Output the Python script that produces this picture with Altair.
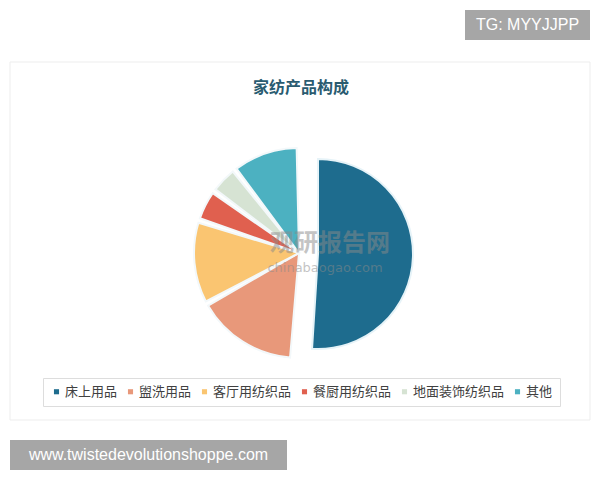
import altair as alt
import pandas as pd

categories = ["床上用品", "盥洗用品", "客厅用纺织品", "餐厨用纺织品", "地面装饰纺织品", "其他"]
values = [51, 16, 13, 5, 4.5, 10.5]
colors = ["#1e6c8e", "#e8987a", "#fac571", "#e0604f", "#d6e3d3", "#4cb1c1"]

title_text = "家纺产品构成"
watermark_cn = "观研报告网"
watermark_en = "chinabaogao.com"
tag_text = "TG: MYYJJPP"
site_text = "www.twistedevolutionshoppe.com"

CJK = "Noto Sans CJK SC"

df = pd.DataFrame({"category": categories, "value": values, "order": list(range(len(categories)))})
one = pd.DataFrame({"k": [0]})

color = alt.Color(
    "category:N",
    scale=alt.Scale(domain=categories, range=colors),
    legend=alt.Legend(
        title=None, orient="none", legendX=35, legendY=370, direction="horizontal",
        symbolType="square", symbolSize=26, symbolStrokeWidth=0, labelFont=CJK,
        labelFontSize=13, labelColor="#404040", labelOffset=2, columnPadding=6,
        strokeColor="#dddddd", padding=7, fillColor="#ffffff",
    ),
)

base = (
    alt.Chart(df)
    .transform_joinaggregate(total="sum(value)")
    .transform_window(cum="sum(value)", sort=[alt.SortField("order")], frame=[None, 0])
    .transform_calculate(t0="(datum.cum - datum.value) / datum.total", t1="datum.cum / datum.total")
)
theta = alt.Theta("t0:Q", scale=alt.Scale(domain=[0, 1]))

others = base.transform_filter(alt.datum.category != categories[0]).mark_arc(
    outerRadius=105, padAngle=0.045, stroke="#f3f8fa", strokeWidth=2
).encode(theta=theta, theta2="t1:Q", color=color, x=alt.value(291), y=alt.value(245))

main = base.transform_filter(alt.datum.category == categories[0]).mark_arc(
    outerRadius=95, stroke="#e6f3f8", strokeWidth=2
).encode(theta=theta, theta2="t1:Q", color=color, x=alt.value(310), y=alt.value(246))

panel = alt.Chart(one).mark_rect(fill="#ffffff", stroke="#ededed", strokeWidth=1).encode(
    x=alt.value(2), x2=alt.value(582), y=alt.value(54), y2=alt.value(412)
)

title = alt.Chart(one).mark_text(
    text=title_text, font=CJK, fontSize=16, fontWeight="bold", color="#2a5b70", align="center", baseline="middle"
).encode(x=alt.value(293), y=alt.value(80))

wm1 = alt.Chart(one).mark_text(
    text=watermark_cn, font=CJK, fontSize=24, fontWeight="bold", color="#8a8a8a", opacity=0.5,
    align="center", baseline="middle"
).encode(x=alt.value(322), y=alt.value(236))
wm2 = alt.Chart(one).mark_text(
    text=watermark_en, font="DejaVu Sans", fontSize=13, color="#8a8a8a", opacity=0.5,
    align="center", baseline="middle"
).encode(x=alt.value(317), y=alt.value(260))

tag_box = alt.Chart(one).mark_rect(fill="#a6a6a6").encode(
    x=alt.value(457), x2=alt.value(582), y=alt.value(2), y2=alt.value(32)
)
tag = alt.Chart(one).mark_text(
    text=tag_text, font="Liberation Sans", fontSize=16, color="#ffffff", align="center", baseline="middle"
).encode(x=alt.value(519.5), y=alt.value(17))

site_box = alt.Chart(one).mark_rect(fill="#a6a6a6").encode(
    x=alt.value(2), x2=alt.value(279), y=alt.value(432), y2=alt.value(462)
)
site = alt.Chart(one).mark_text(
    text=site_text, font="Liberation Sans", fontSize=16, color="#ffffff", align="center", baseline="middle"
).encode(x=alt.value(140.5), y=alt.value(447))

chart = (
    alt.layer(panel, title, others, main, wm1, wm2, tag_box, tag, site_box, site)
    .properties(width=584, height=464, padding=0, autosize=alt.AutoSizeParams(type="none"), background="#ffffff")
    .configure_view(stroke=None)
)

chart.save("out.html", embed_options={"renderer": "svg", "actions": False})
